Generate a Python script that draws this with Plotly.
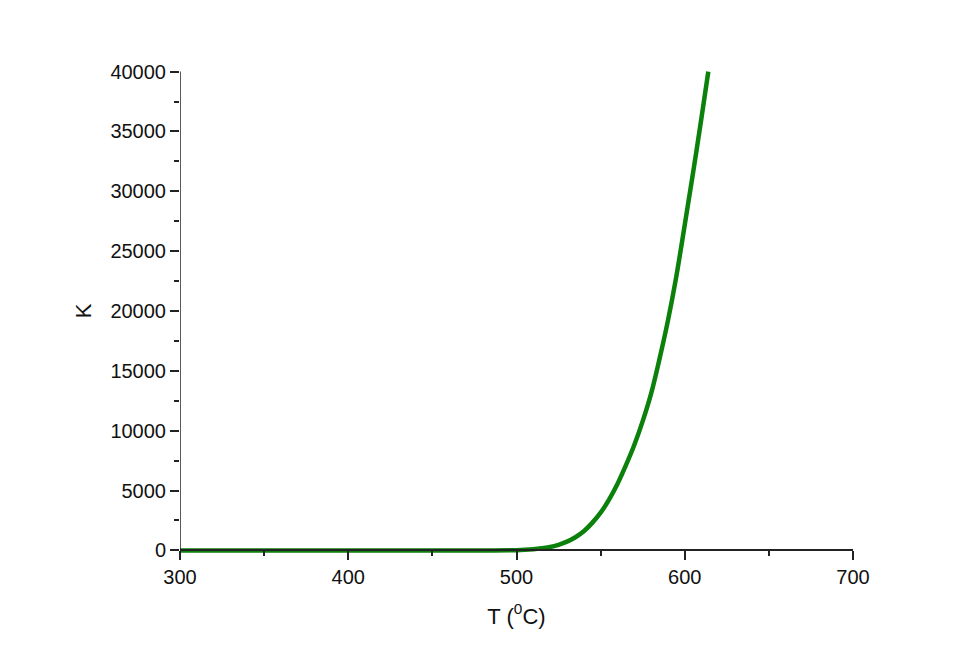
import plotly.graph_objects as go

# Equilibrium constant K versus temperature T (°C)
temperature = [300, 400, 480, 500, 505, 510, 515, 520, 525, 530, 535, 540, 545,
               550, 555, 560, 565, 570, 575, 580, 585, 590, 595, 600, 605, 610, 614]
k_values = [0, 0, 0, 15, 45, 100, 180, 280, 470, 730, 1100, 1600, 2300,
            3150, 4250, 5550, 7100, 8800, 10800, 13100, 16000, 19200, 22900,
            27200, 31600, 36200, 40000]

x_ticks = [300, 400, 500, 600, 700]
y_ticks = [0, 5000, 10000, 15000, 20000, 25000, 30000, 35000, 40000]

font_family = "Liberation Sans, Arial, sans-serif"
axis_color = "#222222"

fig = go.Figure()
fig.add_trace(go.Scatter(
    x=temperature, y=k_values, mode="lines",
    line=dict(color="#0b800b", width=4.5, shape="spline", smoothing=1.0),
    showlegend=False, hoverinfo="skip",
))

y_pad = 300
y_lo, y_hi = -y_pad, 40000 + y_pad
zero_frac = (0 - y_lo) / (y_hi - y_lo)

fig.update_layout(
    width=959, height=669,
    margin=dict(l=180, r=106, t=68, b=115),
    paper_bgcolor="white", plot_bgcolor="white",
    font=dict(family=font_family, size=20, color="#111111"),
    xaxis=dict(
        range=[300, 700], tickvals=x_ticks, ticktext=[str(v) for v in x_ticks],
        anchor="free", position=zero_frac,
        showline=True, linecolor=axis_color, linewidth=1.5,
        ticks="outside", ticklen=9, tickwidth=1.5, tickcolor=axis_color,
        minor=dict(dtick=50, tick0=300, ticks="outside", ticklen=5,
                   tickwidth=1.5, tickcolor=axis_color),
        showgrid=False, zeroline=False,
        tickfont=dict(size=20),
        title=dict(text="T (<sup>0</sup>C)", font=dict(size=22), standoff=20),
    ),
    yaxis=dict(
        range=[y_lo, y_hi], tickvals=y_ticks, ticktext=[str(v) for v in y_ticks],
        showline=False,
        ticks="outside", ticklen=9, tickwidth=1.5, tickcolor=axis_color,
        minor=dict(tickvals=[2500, 7500, 12500, 17500, 22500, 27500, 32500, 37500],
                   ticks="outside", ticklen=5, tickwidth=1.5, tickcolor=axis_color),
        showgrid=False, zeroline=False,
        tickfont=dict(size=20),
        title=dict(text="K", font=dict(size=22), standoff=12),
    ),
    shapes=[dict(type="line", xref="x", yref="y", x0=300, x1=300, y0=0, y1=40000,
                 line=dict(color=axis_color, width=1.5), layer="above")],
)

fig.write_html("out.html")
